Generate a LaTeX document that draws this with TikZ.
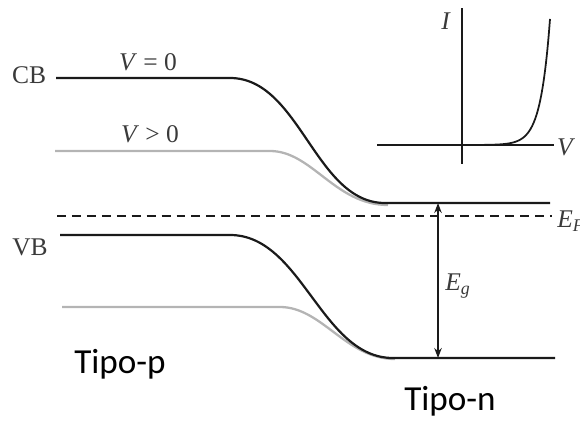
\documentclass[tikz,border=0pt]{standalone}
\usepackage{fontspec}
\setmainfont{Liberation Serif}
\newfontfamily\tipofont{Carlito}
\usetikzlibrary{arrows.meta}
\definecolor{Band}{HTML}{1A1A1A}
\definecolor{Bias}{HTML}{B4B4B4}
\definecolor{Ink}{HTML}{3A3A3A}
\newcommand{\qty}[1]{\textit{#1}}
\tikzset{
  band/.style={draw=Band,line width=1.25pt},
  biased/.style={draw=Bias,line width=1.3pt},
  fermi/.style={draw=Band,line width=1.7pt,dash pattern=on 5.1pt off 3.4pt},
  lbl/.style={font=\fontsize{14.5}{16}\selectfont,text=Ink,inner sep=0pt},
  tipo/.style={font=\tipofont\fontsize{20}{24}\selectfont,inner sep=0pt},
  gaparrow/.style={{Stealth[length=2mm,width=1.5mm]}-{Stealth[length=2mm,width=1.5mm]},draw=Band,line width=.7pt},
  axis/.style={draw=Band,line width=1pt}
}

\begin{document}
\begin{tikzpicture}[x=0.2mm,y=-0.2mm]
    \useasboundingbox (0,0) rectangle (580,421);

    % biased bands (grey), drawn first
    \draw[biased] (55,151) -- (270,151) .. controls (312,151) and (335,205) .. (388,205);
    \draw[biased] (62,307) -- (280,307) .. controls (322,307) and (346,359) .. (395,359);

    % conduction and valence band at V = 0
    \draw[band] (56,78) -- (230,78) .. controls (300,78) and (315,203) .. (385,203) -- (550,203);
    \draw[band] (60,235) -- (230,235) .. controls (302,235) and (321,358) .. (393,358) -- (555,358);

    % Fermi level
    \draw[fermi] (57,216) -- (552,216);

    % band gap
    \coordinate (gtop) at (438,203);
    \coordinate (gbot) at (438,358);
    \draw[gaparrow] (gtop) -- (gbot);

    \node[lbl] (cb) at (29,75) {CB};
    \node[lbl] (vb) at (30,247) {VB};
    \node[lbl] (v0) at (148,62) {\qty{V} = 0};
    \node[lbl] (vp) at (150,134) {\qty{V} > 0};
    \node[lbl,anchor=west] (ef) at (557,221) {\qty{E}\textsubscript{\qty{F}}};
    \node[lbl] (eg) at (458,286) {\qty{E}\textsubscript{\qty{g}}};

    % I-V inset
    \coordinate (ilo) at (462,164);
    \coordinate (ihi) at (462,8);
    \coordinate (vlo) at (377,145);
    \coordinate (vhi) at (554,145);
    \draw[axis] (ilo) -- (ihi);
    \draw[axis] (vlo) -- (vhi);
    \draw[band,line width=1pt] plot[domain=462:550,samples=60,smooth] (\x,{145-126*exp(0.106*(\x-550))});
    \node[lbl] (ilab) at (446,21) {\qty{I}};
    \node[lbl] (vlab) at (566,147) {\qty{V}};

    \node[tipo] (tp) at (120,364) {Tipo-p};
    \node[tipo] (tn) at (450,401) {Tipo-n};
\end{tikzpicture}
\end{document}
